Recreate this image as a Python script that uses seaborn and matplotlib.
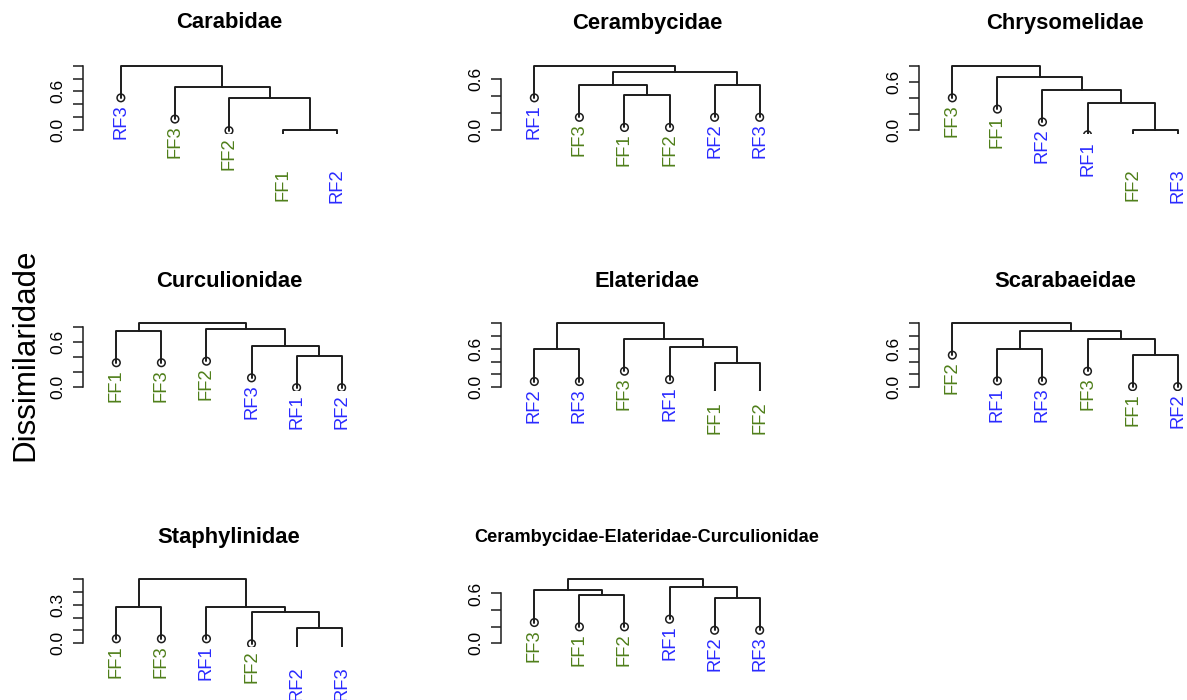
import matplotlib
matplotlib.use("Agg")
import matplotlib.pyplot as plt
import pandas as pd
import seaborn as sns

sns.set_style("white")
plt.rcParams["font.family"] = ["Liberation Sans", "DejaVu Sans"]
plt.rcParams["text.color"] = "black"
plt.rcParams["ytick.color"] = "black"

# ---- dendrogram data: leaf order + merges (left node, right node, height) ----
# nodes 0..n-1 are leaves, node n+k is the k-th merge
carabidae_leaves = ["RF3", "FF3", "FF2", "FF1", "RF2"]
carabidae_merges = [(3, 4, 0.00), (2, 5, 0.49), (1, 6, 0.67), (0, 7, 1.00)]

cerambycidae_leaves = ["RF1", "FF3", "FF1", "FF2", "RF2", "RF3"]
cerambycidae_merges = [(2, 3, 0.41), (1, 6, 0.53), (4, 5, 0.53), (7, 8, 0.68), (0, 9, 0.76)]

chrysomelidae_leaves = ["FF3", "FF1", "RF2", "RF1", "FF2", "RF3"]
chrysomelidae_merges = [(4, 5, 0.00), (3, 6, 0.34), (2, 7, 0.50), (1, 8, 0.66), (0, 9, 0.80)]

curculionidae_leaves = ["FF1", "FF3", "FF2", "RF3", "RF1", "RF2"]
curculionidae_merges = [(4, 5, 0.42), (3, 6, 0.55), (2, 7, 0.77), (0, 1, 0.75), (9, 8, 0.85)]

elateridae_leaves = ["RF2", "RF3", "FF3", "RF1", "FF1", "FF2"]
elateridae_merges = [(0, 1, 0.59), (4, 5, 0.375), (3, 7, 0.62), (2, 8, 0.75), (6, 9, 1.00)]

scarabaeidae_leaves = ["FF2", "RF1", "RF3", "FF3", "FF1", "RF2"]
scarabaeidae_merges = [(1, 2, 0.60), (4, 5, 0.51), (3, 7, 0.75), (6, 8, 0.87), (0, 9, 1.00)]

staphylinidae_leaves = ["FF1", "FF3", "RF1", "FF2", "RF2", "RF3"]
staphylinidae_merges = [(4, 5, 0.122), (3, 6, 0.246), (2, 7, 0.285), (0, 1, 0.285), (9, 8, 0.50)]

combined_leaves = ["FF3", "FF1", "FF2", "RF1", "RF2", "RF3"]
combined_merges = [(1, 2, 0.585), (0, 6, 0.637), (4, 5, 0.544), (3, 8, 0.677), (7, 9, 0.774)]

panels = [
    ("Carabidae", carabidae_leaves, carabidae_merges, 0, 0, 15.8),
    ("Cerambycidae", cerambycidae_leaves, cerambycidae_merges, 0, 1, 15.8),
    ("Chrysomelidae", chrysomelidae_leaves, chrysomelidae_merges, 0, 2, 15.8),
    ("Curculionidae", curculionidae_leaves, curculionidae_merges, 1, 0, 15.8),
    ("Elateridae", elateridae_leaves, elateridae_merges, 1, 1, 15.8),
    ("Scarabaeidae", scarabaeidae_leaves, scarabaeidae_merges, 1, 2, 15.8),
    ("Staphylinidae", staphylinidae_leaves, staphylinidae_merges, 2, 0, 15.8),
    ("Cerambycidae-Elateridae-Curculionidae", combined_leaves, combined_merges, 2, 1, 13.1),
]

GROUP_COLORS = {"FF": "#4f7f1a", "RF": "#2a2aff"}
LINE_COLOR = "#1c1c1c"

# ---- page geometry (pixels) ----
FIG_W, FIG_H, DPI = 1187, 700, 100
COL_LEFT = [83, 501, 919]
PLOT_W = 292
ROW_ZERO = [130.0, 387.3, 643.3]   # pixel row of height 0
TREE_PX = 64.3                      # pixels spanned by the full tree height
TITLE_Y = [23, 282, 538]


def tree_layout(leaves, merges):
    n = len(leaves)
    node_x = {i: float(i + 1) for i in range(n)}
    node_h = {}
    parent_h = {}
    for k, (a, b, h) in enumerate(merges):
        node = n + k
        node_x[node] = (node_x[a] + node_x[b]) / 2
        node_h[node] = h
        parent_h[a] = h
        parent_h[b] = h
    top = merges[-1][2]
    hang = 0.5 * top
    for i in range(n):
        node_h[i] = parent_h[i] - hang
    rows = []
    for k, (a, b, h) in enumerate(merges):
        for j, (x, y) in enumerate([(node_x[a], node_h[a]), (node_x[a], h),
                                    (node_x[b], h), (node_x[b], node_h[b])]):
            rows.append({"seg": k, "order": j, "x": x, "y": y})
    segs = pd.DataFrame(rows)
    tips = pd.DataFrame({
        "x": [node_x[i] for i in range(n)],
        "y": [node_h[i] for i in range(n)],
        "label": leaves,
    })
    return segs, tips, top


fig = plt.figure(figsize=(FIG_W / DPI, FIG_H / DPI), dpi=DPI)

for title, leaves, merges, r, c, tsize in panels:
    segs, tips, top = tree_layout(leaves, merges)
    n = len(leaves)
    y_lo, y_hi = -0.06 * top, 1.04 * top
    px_per_unit = TREE_PX / top
    top_px = ROW_ZERO[r] - y_hi * px_per_unit
    bot_px = ROW_ZERO[r] - y_lo * px_per_unit
    left = COL_LEFT[c]
    ax = fig.add_axes([left / FIG_W, 1 - bot_px / FIG_H,
                       PLOT_W / FIG_W, (bot_px - top_px) / FIG_H])
    ax.set_xlim(0.5 - 0.04 * n, n + 0.5 + 0.04 * n)
    ax.set_ylim(y_lo, y_hi)

    sns.lineplot(data=segs, x="x", y="y", units="seg", estimator=None,
                 sort=False, color=LINE_COLOR, lw=1.4, ax=ax, legend=False)
    sns.scatterplot(data=tips, x="x", y="y", marker="o", s=30, color="none",
                    edgecolor=LINE_COLOR, linewidth=1.1, ax=ax, legend=False,
                    zorder=3)

    for _, t in tips.iterrows():
        ax.annotate(t["label"], (t["x"], t["y"]), xytext=(0, -4.6),
                    textcoords="offset points", rotation=90, ha="center",
                    va="top", fontsize=13.2, color=GROUP_COLORS[t["label"][:2]],
                    annotation_clip=False)

    # height axis
    step = 0.1 if top < 0.6 else 0.2
    ticks = [round(i * step, 2) for i in range(int(top / step + 1e-6) + 1)]
    ax.set_yticks(ticks)
    ax.set_yticklabels([f"{v:.1f}" if i in (0, 3) else "" for i, v in enumerate(ticks)])
    ax.tick_params(axis="y", length=7.2, width=1.1, color=LINE_COLOR,
                   labelsize=12.5, labelrotation=90, pad=5.5, left=True,
                   labelcolor="black")
    for lab in ax.get_yticklabels():
        lab.set_va("center")
    ax.set_xticks([])
    for side in ("top", "right", "bottom"):
        ax.spines[side].set_visible(False)
    ax.spines["left"].set_bounds(0, ticks[-1])
    ax.spines["left"].set_color(LINE_COLOR)
    ax.spines["left"].set_linewidth(1.1)
    ax.set_xlabel("")
    ax.set_ylabel("")

    fig.text((left + PLOT_W / 2) / FIG_W, 1 - TITLE_Y[r] / FIG_H, title,
             ha="center", va="center", fontsize=tsize, fontweight="bold",
             color="black")

fig.text(25 / FIG_W, 1 - 355 / FIG_H, "Dissimilaridade", rotation=90,
         ha="center", va="center", fontsize=22.5, color="black")

fig.savefig("out.png", dpi=DPI, facecolor="white")
